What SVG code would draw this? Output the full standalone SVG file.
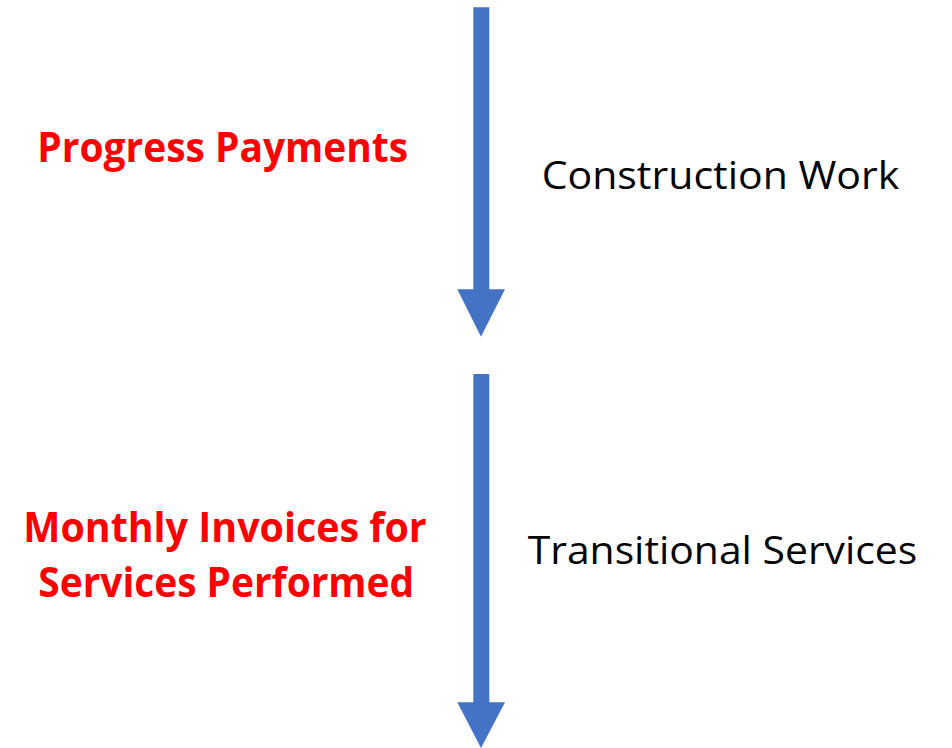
<svg xmlns="http://www.w3.org/2000/svg" width="952" height="748" viewBox="0 0 952 748">
<style>
.lbl{font-family:"Open Sans","Noto Sans","Liberation Sans",sans-serif;text-anchor:middle}
.red{fill:#FF0000;font-weight:bold;font-size:41px}
.blk{fill:#000000;font-size:38px}
.arrow{fill:#4472C4}
</style>
<rect width="952" height="748" fill="#FFFFFF"/>
<g id="connectors">
<path class="arrow" d="M473.3,7.3 H489.3 V289.3 H505 L481,336.7 L457.3,289.3 H473.3 Z"/>
<path class="arrow" d="M473.3,374 H489.3 V702.3 H505 L481,748 L457.3,702.3 H473.3 Z"/>
</g>
<g id="progress-payments">
<text class="lbl red" x="222.7" y="162" textLength="370.7" lengthAdjust="spacingAndGlyphs">Progress Payments</text>
</g>
<g id="construction-work">
<text class="lbl blk" x="720.5" y="189.3" textLength="357.6" lengthAdjust="spacingAndGlyphs">Construction Work</text>
</g>
<g id="monthly-invoices">
<text class="lbl red" x="225" y="542.3" textLength="403.4" lengthAdjust="spacingAndGlyphs">Monthly Invoices for</text>
<text class="lbl red" x="226.2" y="597.3" textLength="375.7" lengthAdjust="spacingAndGlyphs">Services Performed</text>
</g>
<g id="transitional-services">
<text class="lbl blk" x="722.5" y="564.3" textLength="389.6" lengthAdjust="spacingAndGlyphs">Transitional Services</text>
</g>
</svg>
